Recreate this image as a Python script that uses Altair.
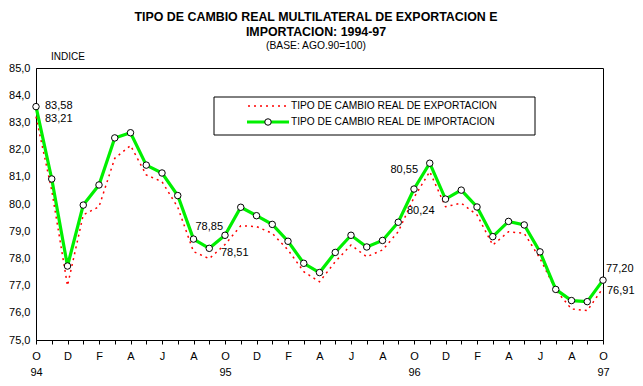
import json
import altair as alt
import pandas as pd

# ---------------- data ----------------
months_idx = list(range(37))  # Oct 1994 ... Oct 1997
month_letters = ["O", "", "D", "", "F", "", "A", "", "J", "", "A", ""] * 3 + ["O"]
year_labels = {0: "94", 12: "95", 24: "96", 36: "97"}

export_vals = [83.21, 80.50, 77.00, 79.60, 79.90, 81.68, 82.15, 81.07, 80.82, 79.88,
               78.25, 77.99, 78.51, 79.20, 79.17, 78.92, 78.31, 77.51, 77.14, 77.88,
               78.49, 78.06, 78.31, 78.98, 80.24, 81.19, 79.90, 80.03, 79.60, 78.49,
               78.98, 78.92, 78.00, 76.84, 76.14, 76.08, 76.91]
import_vals = [83.58, 80.92, 77.72, 79.96, 80.70, 82.43, 82.62, 81.43, 81.14, 80.31,
               78.71, 78.37, 78.85, 79.88, 79.57, 79.25, 78.63, 77.82, 77.48, 78.22,
               78.85, 78.42, 78.66, 79.33, 80.55, 81.50, 80.18, 80.51, 79.89, 78.80,
               79.36, 79.23, 78.24, 76.86, 76.45, 76.41, 77.20]

y_ticks = [75, 76, 77, 78, 79, 80, 81, 82, 83, 84, 85]

title_lines = ["TIPO DE CAMBIO REAL MULTILATERAL DE EXPORTACION E", "IMPORTACION: 1994-97"]
subtitle = "(BASE: AGO.90=100)"
y_title = "INDICE"
legend_labels = ["TIPO DE CAMBIO REAL DE EXPORTACION", "TIPO DE CAMBIO REAL DE IMPORTACION"]

# annotated points: (series, month index)
annotations = [("imp", 0), ("exp", 0), ("imp", 12), ("exp", 12),
               ("imp", 24), ("exp", 24), ("imp", 36), ("exp", 36)]

# ---------------- build ----------------
df = pd.DataFrame({"m": months_idx, "exp": export_vals, "imp": import_vals})

tick_text = []
for i, lab in enumerate(month_letters):
    if i in year_labels:
        tick_text.append([lab, year_labels[i]])
    else:
        tick_text.append(lab)

FONT = "Liberation Sans"
W, H = 567, 272

xscale = alt.Scale(domain=[0, 36], nice=False, zero=False)
yscale = alt.Scale(domain=[75, 85], nice=False, zero=False)

x_axis = alt.Axis(values=months_idx, labelExpr=f"{json.dumps(tick_text)}[datum.value]",
                  tickSize=4, labelPadding=6, labelFontSize=11, labelLineHeight=16,
                  labelOverlap=False, labelFlush=False, grid=False, title=None,
                  domainColor="black", tickColor="black", labelColor="black",
                  labelFont=FONT)
y_axis = alt.Axis(values=y_ticks, labelExpr="replace(format(datum.value, '.1f'), '.', ',')",
                  ticks=False, labelPadding=6, labelFontSize=11, grid=False, title=None,
                  domainColor="black", labelColor="black", labelFont=FONT,
                  labelOverlap=False, labelFlush=False)


def X():
    return alt.X("m:Q", scale=xscale, axis=x_axis)


def Y(field):
    return alt.Y(f"{field}:Q", scale=yscale, axis=y_axis)


base = alt.Chart(df)

exp_line = base.mark_line(color="#ff0000", strokeWidth=1.5, strokeDash=[2, 4]).encode(
    x=X(), y=Y("exp"))
imp_line = base.mark_line(color="#00f000", strokeWidth=3.2).encode(x=X(), y=Y("imp"))
imp_pts = base.mark_point(shape="circle", size=42, filled=True, fill="white",
                          stroke="black", strokeWidth=1, opacity=1).encode(x=X(), y=Y("imp"))

layers = [exp_line, imp_line, imp_pts]

# value annotations (label style offsets)
ann_style = {
    ("imp", 0): ("left", 9, -1),
    ("exp", 0): ("left", 9, 2),
    ("imp", 12): ("right", -2, -8),
    ("exp", 12): ("left", -4, 8),
    ("imp", 24): ("right", 4, -19),
    ("exp", 24): ("left", -7, 14),
    ("imp", 36): ("left", 3, -11),
    ("exp", 36): ("left", 4, 3),
}
for ser, idx in annotations:
    val = export_vals[idx] if ser == "exp" else import_vals[idx]
    adf = pd.DataFrame({"m": [idx], "v": [val],
                        "t": [f"{val:.2f}".replace(".", ",")]})
    al, dx, dy = ann_style[(ser, idx)]
    layers.append(alt.Chart(adf).mark_text(align=al, baseline="middle", dx=dx, dy=dy,
                                           fontSize=11, font=FONT, color="black").encode(
        x=X(), y=Y("v"), text="t:N"))

one = alt.Data(values=[{}])


def txt(s, x, y, size, bold=False, align="center", baseline="alphabetic"):
    return alt.Chart(one).mark_text(text=s, fontSize=size, font=FONT,
                                    fontWeight="bold" if bold else "normal",
                                    align=align, baseline=baseline, color="black").encode(
        x=alt.value(x), y=alt.value(y))


layers.append(txt(title_lines[0], 280, -47, 12.4, bold=True))
layers.append(txt(title_lines[1], 280, -32, 12.4, bold=True))
layers.append(txt(subtitle, 280, -19, 10.3))
layers.append(txt(y_title, 15, -11, 10, align="left", baseline="middle"))

# legend box
layers.append(alt.Chart(one).mark_rect(fill="white", stroke="black", strokeWidth=1).encode(
    x=alt.value(178), x2=alt.value(499), y=alt.value(29), y2=alt.value(67)))
layers.append(alt.Chart(one).mark_rule(color="#ff0000", strokeWidth=1.5, strokeDash=[2, 4]).encode(
    x=alt.value(212), x2=alt.value(251), y=alt.value(38)))
layers.append(alt.Chart(one).mark_rule(color="#00f000", strokeWidth=3.2).encode(
    x=alt.value(211), x2=alt.value(253), y=alt.value(54)))
layers.append(alt.Chart(one).mark_point(shape="circle", size=42, filled=True, fill="white",
                                        stroke="black", strokeWidth=1, opacity=1).encode(
    x=alt.value(232), y=alt.value(54)))
layers.append(txt(legend_labels[0], 255, 38, 10.2, align="left", baseline="middle"))
layers.append(txt(legend_labels[1], 255, 54, 10.2, align="left", baseline="middle"))

chart = alt.layer(*layers).properties(
    width=W, height=H,
    background="white",
    autosize=alt.AutoSizeParams(type="none"),
    padding={"left": 28, "top": 60, "right": 32, "bottom": 38},
).configure_view(stroke="black", strokeWidth=1)

chart.save("out.html", embed_options={"renderer": "svg", "actions": False})
